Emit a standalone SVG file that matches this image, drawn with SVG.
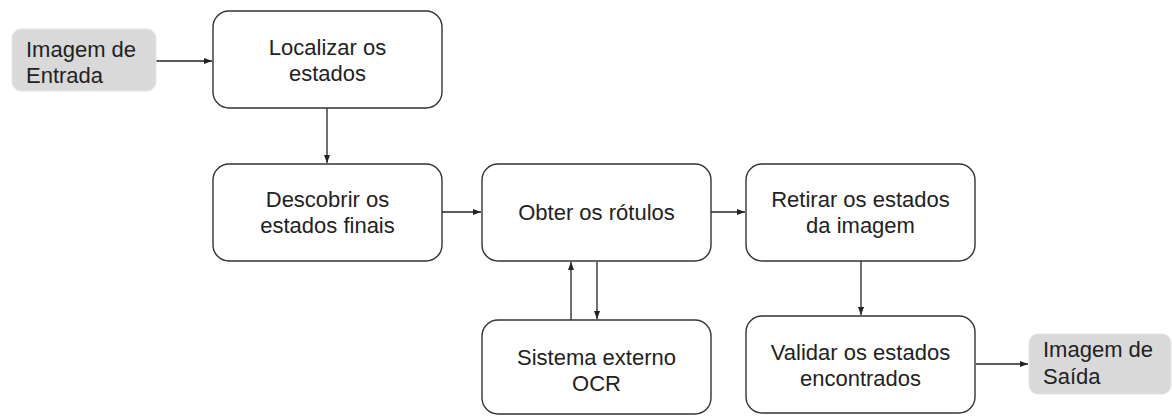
<svg xmlns="http://www.w3.org/2000/svg" width="1172" height="416" viewBox="0 0 1172 416">
  <style>
    .box { fill: #ffffff; stroke: #333333; stroke-width: 1.4; }
    .term { fill: #d9d9d9; stroke: #e4e4e4; stroke-width: 1; }
    .lbl { font-family: "Liberation Sans", Arial, sans-serif; font-size: 22px; fill: #222222; }
    .c { text-anchor: middle; }
    .edge { fill: none; stroke: #222222; stroke-width: 1.3; }
  </style>
  <defs>
    <marker id="arrow" viewBox="0 0 8 6" refX="8" refY="3" markerWidth="8" markerHeight="6" markerUnits="userSpaceOnUse" orient="auto">
      <path d="M0,0 L8,3 L0,6 Z" fill="#222222"/>
    </marker>
  </defs>

  <rect width="1172" height="416" fill="#ffffff"/>

  <!-- connectors -->
  <g id="connectors">
    <line class="edge" x1="156" y1="61" x2="212" y2="61" marker-end="url(#arrow)"/>
    <line class="edge" x1="327" y1="108" x2="327" y2="163" marker-end="url(#arrow)"/>
    <line class="edge" x1="442" y1="212" x2="481" y2="212" marker-end="url(#arrow)"/>
    <line class="edge" x1="711" y1="212" x2="745" y2="212" marker-end="url(#arrow)"/>
    <line class="edge" x1="571" y1="320" x2="571" y2="262" marker-end="url(#arrow)"/>
    <line class="edge" x1="597" y1="262" x2="597" y2="319" marker-end="url(#arrow)"/>
    <line class="edge" x1="861" y1="261" x2="861" y2="315" marker-end="url(#arrow)"/>
    <line class="edge" x1="976" y1="364" x2="1028" y2="364" marker-end="url(#arrow)"/>
  </g>

  <!-- input image -->
  <g id="entrada">
    <rect class="term" x="12" y="29" width="144" height="62" rx="9"/>
    <text class="lbl" x="26" y="57">Imagem de</text>
    <text class="lbl" x="26" y="83">Entrada</text>
  </g>

  <g id="localizar">
    <rect class="box" x="213" y="11" width="229" height="97" rx="16"/>
    <text class="lbl c" x="327.5" y="55">Localizar os</text>
    <text class="lbl c" x="327.5" y="81">estados</text>
  </g>

  <g id="descobrir">
    <rect class="box" x="213" y="164" width="229" height="97" rx="16"/>
    <text class="lbl c" x="327.5" y="207">Descobrir os</text>
    <text class="lbl c" x="327.5" y="233">estados finais</text>
  </g>

  <g id="obter">
    <rect class="box" x="482" y="164" width="229" height="97" rx="16"/>
    <text class="lbl c" x="596.5" y="220">Obter os rótulos</text>
  </g>

  <g id="retirar">
    <rect class="box" x="746" y="164" width="229" height="97" rx="16"/>
    <text class="lbl c" x="860.5" y="207">Retirar os estados</text>
    <text class="lbl c" x="860.5" y="233">da imagem</text>
  </g>

  <g id="ocr">
    <rect class="box" x="482" y="320" width="229" height="94" rx="16"/>
    <text class="lbl c" x="596.5" y="365">Sistema externo</text>
    <text class="lbl c" x="596.5" y="391">OCR</text>
  </g>

  <g id="validar">
    <rect class="box" x="746" y="316" width="229" height="97" rx="16"/>
    <text class="lbl c" x="860.5" y="360">Validar os estados</text>
    <text class="lbl c" x="860.5" y="386">encontrados</text>
  </g>

  <!-- output image -->
  <g id="saida">
    <rect class="term" x="1029" y="334" width="142" height="60" rx="9"/>
    <text class="lbl" x="1043" y="357">Imagem de</text>
    <text class="lbl" x="1043" y="384">Saída</text>
  </g>
</svg>
